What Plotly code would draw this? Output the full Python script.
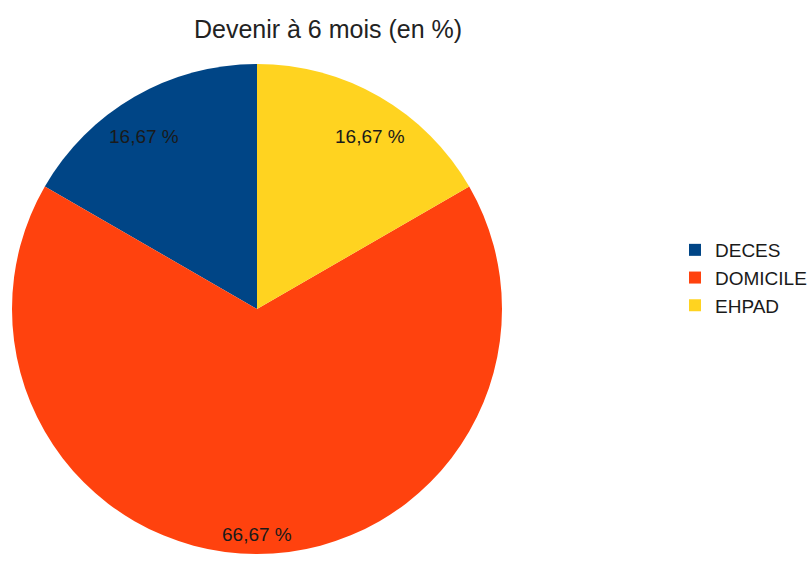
import math
import plotly.graph_objects as go

# Outcome at 6 months, share of patients (%)
categories = ["DECES", "DOMICILE", "EHPAD"]
values = [16.67, 66.67, 16.67]
colors = ["#004586", "#ff420e", "#ffd320"]

W, H = 812, 564
cx, cy, R = 257, 309, 245  # pie centre and radius in pixels
FONT = "Liberation Sans, Arial, sans-serif"

total = sum(values)
# plotly's counterclockwise pies end the first slice at the rotation angle;
# rotate back so that the first slice starts at 12 o'clock
start_rotation = -360.0 * values[0] / total

fig = go.Figure(
    go.Pie(
        labels=categories,
        values=values,
        sort=False,
        direction="counterclockwise",
        rotation=start_rotation,
        marker=dict(colors=colors, line=dict(width=0)),
        textinfo="none",
        hoverinfo="label+percent",
        domain=dict(
            x=[(cx - R) / W, (cx + R) / W],
            y=[1 - (cy + R) / H, 1 - (cy - R) / H],
        ),
    )
)

# Percentage labels placed along each slice's mid-angle, near the rim
annotations = []
acc = 0.0
for v in values:
    mid = (acc + v / 2) / total * 2 * math.pi  # counterclockwise from 12 o'clock
    acc += v
    dx, dy = -math.sin(mid), -math.cos(mid)    # screen direction (y down)
    k = 0.92 * R
    px = cx + dx * k
    py = cy + dy * k
    annotations.append(
        dict(
            x=px / W,
            y=1 - py / H,
            xref="paper",
            yref="paper",
            text=f"{v:.2f}".replace(".", ",") + " %",
            showarrow=False,
            xanchor="center",
            yanchor="top" if dy < 0 else "middle",
            yshift=-10 if dy < 0 else 0,
            font=dict(family=FONT, size=19, color="#1a1a1a"),
        )
    )

fig.update_layout(
    width=W,
    height=H,
    margin=dict(l=0, r=0, t=0, b=0),
    paper_bgcolor="white",
    plot_bgcolor="white",
    title=dict(
        text="Devenir à 6 mois (en %)",
        x=328 / W,
        xanchor="center",
        y=1 - 29 / H,
        yanchor="middle",
        font=dict(family=FONT, size=25, color="#222222"),
    ),
    legend=dict(
        x=675 / W,
        y=1 - 278 / H,
        xanchor="left",
        yanchor="middle",
        font=dict(family=FONT, size=19, color="#1a1a1a"),
        bgcolor="rgba(0,0,0,0)",
        itemwidth=30,
        tracegroupgap=0,
    ),
    annotations=annotations,
)

fig.write_html("out.html")
